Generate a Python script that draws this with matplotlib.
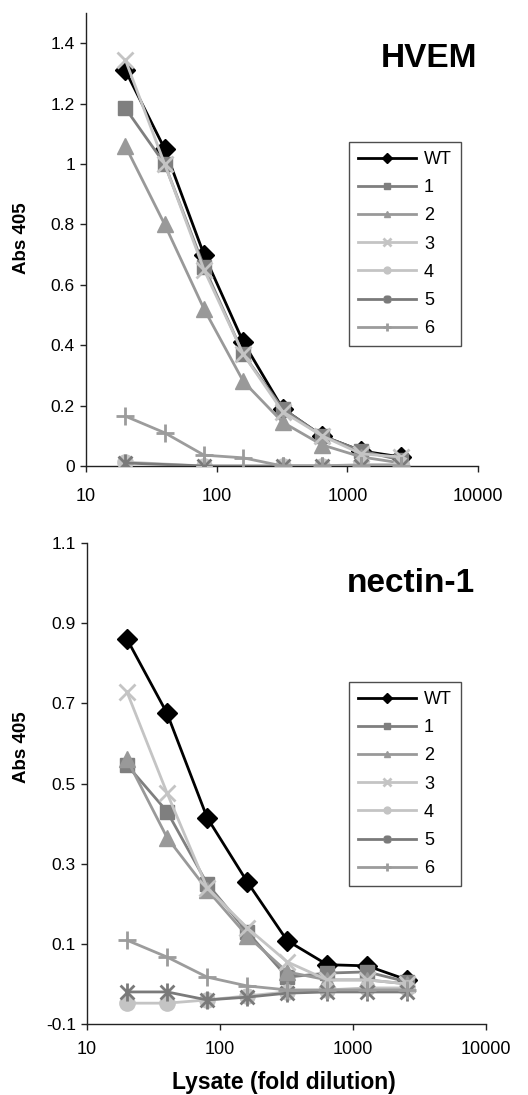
import numpy as np
import matplotlib
matplotlib.use("Agg")
from matplotlib import pyplot as plt
from matplotlib.path import Path

plt.rcParams['font.family'] = ['Liberation Sans', 'DejaVu Sans']

# dilution series
dilution = [20, 40, 80, 160, 320, 640, 1280, 2560]
names = ['WT', '1', '2', '3', '4', '5', '6']

# HVEM binding (Abs 405); nan = no point plotted
hvem_wt = [1.31, 1.05, 0.70, 0.41, 0.19, 0.10, 0.05, 0.03]
hvem_1 = [1.185, 1.00, 0.66, 0.37, 0.19, 0.10, 0.05, 0.02]
hvem_2 = [1.06, 0.80, 0.52, 0.28, 0.145, 0.07, 0.03, 0.01]
hvem_3 = [1.345, 1.00, 0.65, 0.37, 0.18, 0.10, 0.04, 0.03]
hvem_4 = [0.013, np.nan, 0.0, np.nan, 0.0, 0.0, 0.005, 0.005]
hvem_5 = [0.01, np.nan, 0.0, np.nan, 0.0, 0.0, 0.0, 0.0]
hvem_6 = [0.165, 0.11, 0.036, 0.027, 0.0, 0.0, 0.0, 0.0]

# nectin-1 binding (Abs 405)
nec_wt = [0.86, 0.675, 0.415, 0.255, 0.108, 0.048, 0.045, 0.01]
nec_1 = [0.546, 0.43, 0.25, 0.13, 0.017, 0.027, 0.03, 0.005]
nec_2 = [0.56, 0.365, 0.235, 0.12, 0.03, 0.01, 0.01, 0.0]
nec_3 = [0.728, 0.476, 0.24, 0.14, 0.055, 0.01, 0.01, 0.0]
nec_4 = [-0.048, -0.048, -0.04, -0.03, -0.02, -0.015, -0.01, -0.01]
nec_5 = [-0.02, -0.02, -0.04, -0.033, -0.023, -0.02, -0.02, -0.02]
nec_6 = [0.109, 0.067, 0.017, -0.005, -0.015, -0.015, -0.015, -0.015]

# excel style asterisk: an x with a vertical bar
star = Path([(-1, -1), (1, 1), (-1, 1), (1, -1), (0, -1.3), (0, 1.3)],
            [Path.MOVETO, Path.LINETO, Path.MOVETO, Path.LINETO, Path.MOVETO, Path.LINETO])

colors = ['#000000', '#7f7f7f', '#999999', '#c4c4c4', '#c4c4c4', '#7a7a7a', '#9c9c9c']
markers = ['D', 's', '^', 'x', 'o', star, '+']
msizes = [10.5, 10, 11, 12, 11, 13, 13]
thin = [False, False, False, True, False, True, True]

fig = plt.figure(figsize=(5.28, 10.95), dpi=100)
W, H = 528.0, 1095.0


def panel(rect, series, ylim, yticks, ylabels, title, title_xy, leg_top, ylab_y, xpad):
    ax = fig.add_axes(rect)
    x = np.array(dilution, dtype=float)
    for i, ys in enumerate(series):
        ys = np.array(ys, dtype=float)
        ok = ~np.isnan(ys)
        ax.plot(x[ok], ys[ok], color=colors[i], marker=markers[i], markersize=msizes[i],
                markeredgecolor=colors[i], markerfacecolor=colors[i],
                markeredgewidth=2 if thin[i] else 1,
                linewidth=2, label=names[i], zorder=3 + i)
    ax.set_xscale('log')
    ax.set_xlim(10, 10000)
    ax.set_ylim(*ylim)
    ax.set_xticks([10, 100, 1000, 10000])
    ax.set_xticklabels(['10', '100', '1000', '10000'])
    ax.xaxis.set_minor_locator(matplotlib.ticker.NullLocator())
    ax.set_yticks(yticks)
    ax.set_yticklabels(ylabels)
    for s in ['top', 'right']:
        ax.spines[s].set_visible(False)
    for s in ['left', 'bottom']:
        ax.spines[s].set_color('#222222')
        ax.spines[s].set_linewidth(1.0)
    ax.tick_params(axis='y', direction='out', length=4, width=1, labelsize=12.5, pad=4, color='#222222')
    ax.tick_params(axis='x', direction='out', length=4, width=1, labelsize=13, pad=xpad, color='#222222')
    ax.patch.set_alpha(0)

    fig.text(title_xy[0] / W, 1 - title_xy[1] / H, title, ha='right', va='baseline',
             fontsize=24, fontweight='bold')
    fig.text(21 / W, 1 - ylab_y / H, 'Abs 405', rotation=90, ha='center', va='center',
             fontsize=13.5, fontweight='bold')

    leg = ax.legend(loc='upper left', bbox_to_anchor=(349 / W, 1 - leg_top / H),
                    bbox_transform=fig.transFigure, borderaxespad=0, fontsize=13,
                    markerscale=0.45, handlelength=3.2, handletextpad=0.45,
                    labelspacing=0.62, borderpad=0.5, fancybox=False, frameon=True)
    leg.get_frame().set_edgecolor('#222222')
    leg.get_frame().set_linewidth(1.0)
    return ax


panel([86 / W, 1 - 466 / H, 392 / W, 453 / H],
      [hvem_wt, hvem_1, hvem_2, hvem_3, hvem_4, hvem_5, hvem_6],
      (0, 1.5), [0, 0.2, 0.4, 0.6, 0.8, 1.0, 1.2, 1.4],
      ['0', '0.2', '0.4', '0.6', '0.8', '1', '1.2', '1.4'],
      'HVEM', (477, 67), 142, 238, 12)

panel([87 / W, 1 - 1024 / H, 399 / W, 481 / H],
      [nec_wt, nec_1, nec_2, nec_3, nec_4, nec_5, nec_6],
      (-0.1, 1.1), [-0.1, 0.1, 0.3, 0.5, 0.7, 0.9, 1.1],
      ['-0.1', '0.1', '0.3', '0.5', '0.7', '0.9', '1.1'],
      'nectin-1', (475, 592), 682, 747, 8)

fig.text(284 / W, 1 - 1082 / H, 'Lysate (fold dilution)', ha='center', va='center',
         fontsize=16.5, fontweight='bold')

fig.savefig('out.png', dpi=100)
